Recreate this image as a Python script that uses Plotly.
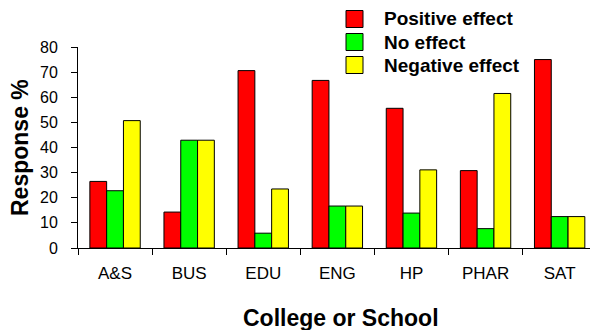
import plotly.graph_objects as go

schools = ["A&S", "BUS", "EDU", "ENG", "HP", "PHAR", "SAT"]
positive = [26.5, 14.3, 70.6, 66.7, 55.6, 30.8, 75.0]
no_effect = [22.8, 42.9, 5.9, 16.7, 13.9, 7.7, 12.5]
negative = [50.7, 42.9, 23.5, 16.7, 31.1, 61.5, 12.5]
y_ticks = [0, 10, 20, 30, 40, 50, 60, 70, 80]

series = [
    ("Positive effect", positive, "#FF0000"),
    ("No effect", no_effect, "#00FF00"),
    ("Negative effect", negative, "#FFFF00"),
]

FONT = "Liberation Sans, Arial, sans-serif"

# plot area in pixels: left 78, width 512, bottom 248, height 201
def px(x):
    return (x - 78) / 512

def py(y):
    return (248 - y) / 201

fig = go.Figure()
for name, vals, color in series:
    fig.add_trace(go.Bar(
        x=schools, y=vals, name=name,
        marker=dict(color=color, line=dict(color="black", width=1)),
        showlegend=False,
    ))

# Legend drawn as boxed swatches with bold labels
for i, (name, vals, color) in enumerate(series):
    cy = 19 + i * 23
    fig.add_shape(type="rect", xref="paper", yref="paper",
                  x0=px(346), x1=px(363),
                  y0=py(cy + 8.5), y1=py(cy - 8.5),
                  fillcolor=color, line=dict(color="black", width=1))
    fig.add_annotation(text=name, xref="paper", yref="paper",
                       x=px(382), y=py(cy),
                       xanchor="left", yanchor="middle", showarrow=False,
                       font=dict(family=FONT, size=19, color="black", weight="bold"))

# Axis titles
fig.add_annotation(text="College or School", xref="paper", yref="paper",
                   x=px(341), y=py(318),
                   xanchor="center", yanchor="middle", showarrow=False,
                   font=dict(family=FONT, size=23, color="black", weight="bold"))
fig.add_annotation(text="Response %", xref="paper", yref="paper",
                   x=px(20), y=py(148), textangle=-90,
                   xanchor="center", yanchor="middle", showarrow=False,
                   font=dict(family=FONT, size=23, color="black", weight="bold"))

fig.update_layout(
    width=590, height=330,
    margin=dict(l=78, r=0, t=47, b=82),
    barmode="group", bargap=0.32, bargroupgap=0,
    plot_bgcolor="white", paper_bgcolor="white",
    font=dict(family=FONT, color="black"),
    xaxis=dict(
        type="category", range=[-0.5, -0.5 + 512 / 74.1],
        tickson="boundaries", ticks="outside", ticklen=6, tickcolor="black",
        showline=True, linecolor="black", linewidth=1, showgrid=False,
        tickfont=dict(size=17, family=FONT), ticklabelstandoff=10,
    ),
    yaxis=dict(
        range=[0, 80], tickvals=y_ticks, ticks="outside", ticklen=6,
        tickcolor="black", showline=True, linecolor="black", linewidth=1,
        showgrid=False, zeroline=False, tickfont=dict(size=16, family=FONT),
        ticklabelstandoff=10,
    ),
)

fig.write_html("out.html")
